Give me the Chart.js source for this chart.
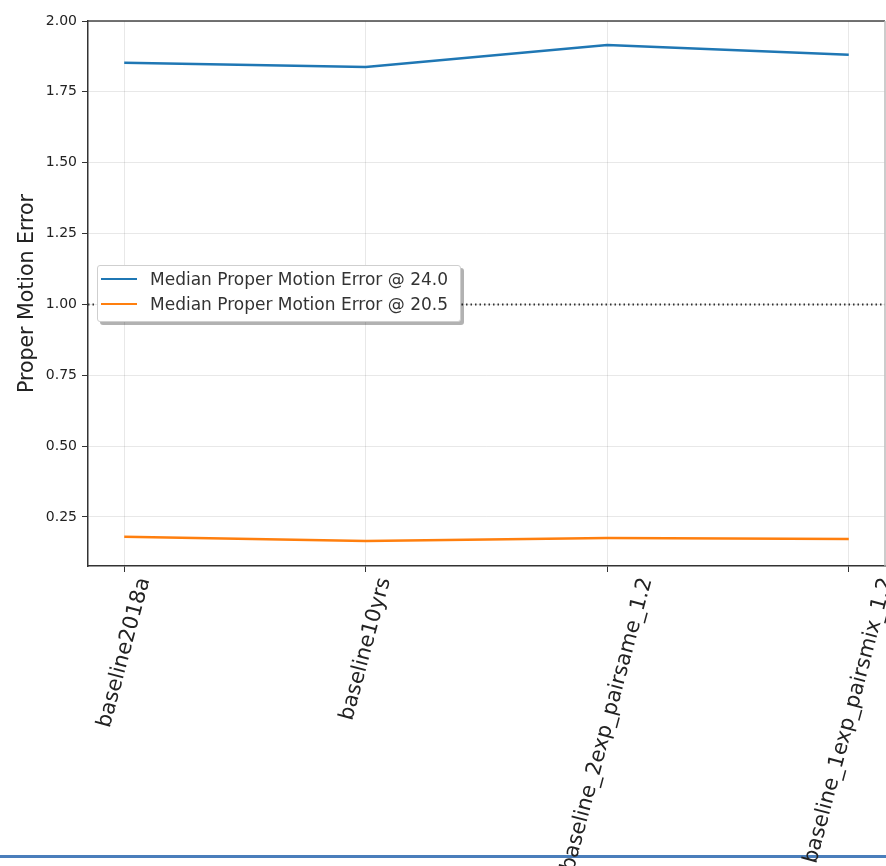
<!DOCTYPE html>
<html>
<head>
<meta charset="utf-8">
<script src="https://cdn.jsdelivr.net/npm/chart.js@4/dist/chart.umd.min.js"></script>
<style>
  body { margin: 0; background: #fff; }
  #wrap { position: relative; width: 886px; height: 866px; overflow: hidden; }
  #legend {
    position: absolute; left: 97px; top: 265px; width: 364px; height: 57px;
    background: #fff; border: 1px solid #cfcfcf; border-radius: 3px;
    box-shadow: 3px 3px 0 rgba(0,0,0,0.3);
    font-family: "DejaVu Sans", sans-serif; font-size: 17px; color: #333;
    box-sizing: border-box; padding-top: 0px;
  }
  .item { height: 25px; display: flex; align-items: center; }
  .swatch { width: 36px; height: 0; border-top: 2.5px solid; margin: 0 13px 0 3px; }
</style>
</head>
<body>
<div id="wrap">
  <canvas id="chart" width="886" height="866"></canvas>
  <div id="legend"></div>
</div>
<script>
// data
const runNames = ['baseline2018a', 'baseline10yrs', 'baseline_2exp_pairsame_1.2', 'baseline_1exp_pairsmix_1.2'];
const errFaint = [1.853, 1.838, 1.915, 1.881];
const errBright = [0.180, 0.165, 0.176, 0.172];
const seriesLabels = ['Median Proper Motion Error @ 24.0', 'Median Proper Motion Error @ 20.5'];
const seriesColors = ['#1f77b4', '#ff7f0e'];
const refLevel = 1.0;

const toPoints = arr => arr.map((v, i) => ({ x: i, y: v }));

// html legend, matplotlib style
const legendEl = document.getElementById('legend');
seriesLabels.forEach((lab, i) => {
  const row = document.createElement('div');
  row.className = 'item';
  row.innerHTML = '<span class="swatch" style="border-color:' + seriesColors[i] + '"></span>' + lab;
  legendEl.appendChild(row);
});

// dotted horizontal line, frame, rotated x labels, bottom separator
const extras = {
  id: 'extras',
  beforeDraw(chart) {
    const ctx = chart.ctx;
    ctx.save();
    ctx.fillStyle = '#4a7ebb';
    ctx.fillRect(0, 855, chart.width, 3);
    ctx.restore();
  },
  afterDatasetsDraw(chart) {
    const { ctx, chartArea } = chart;
    const y = chart.scales.y.getPixelForValue(refLevel);
    ctx.save();
    ctx.strokeStyle = '#333';
    ctx.lineWidth = 2;
    ctx.setLineDash([1.5, 3]);
    ctx.beginPath();
    ctx.moveTo(chartArea.left, y);
    ctx.lineTo(chartArea.right, y);
    ctx.stroke();
    ctx.setLineDash([]);
    // top and right spines
    ctx.strokeStyle = '#444';
    ctx.lineWidth = 1.5;
    ctx.beginPath();
    ctx.moveTo(chartArea.left, chartArea.top);
    ctx.lineTo(chartArea.right, chartArea.top);
    ctx.stroke();
    ctx.strokeStyle = '#bbb';
    ctx.beginPath();
    ctx.moveTo(chartArea.right, chartArea.top);
    ctx.lineTo(chartArea.right, chartArea.bottom);
    ctx.stroke();
    ctx.restore();
  },
  afterDraw(chart) {
    const { ctx, chartArea } = chart;
    const xs = chart.scales.x;
    const size = 21;
    const ang = 75 * Math.PI / 180;
    ctx.save();
    ctx.font = size + 'px "DejaVu Sans"';
    ctx.fillStyle = '#222';
    ctx.textAlign = 'center';
    ctx.textBaseline = 'middle';
    runNames.forEach((name, i) => {
      const w = ctx.measureText(name).width;
      const h = size * 1.16;
      const H = w * Math.sin(ang) + h * Math.cos(ang);
      const cx = xs.getPixelForValue(i);
      const cy = chartArea.bottom + 9 + H / 2;
      ctx.save();
      ctx.translate(cx, cy);
      ctx.rotate(-ang);
      ctx.fillText(name, 0, 0);
      ctx.restore();
    });
    ctx.restore();
  }
};

new Chart(document.getElementById('chart'), {
  type: 'line',
  data: {
    datasets: [
      { label: seriesLabels[0], data: toPoints(errFaint), borderColor: seriesColors[0], borderWidth: 2.5, pointRadius: 0, tension: 0 },
      { label: seriesLabels[1], data: toPoints(errBright), borderColor: seriesColors[1], borderWidth: 2.5, pointRadius: 0, tension: 0 }
    ]
  },
  options: {
    responsive: false,
    animation: false,
    layout: { padding: { top: 21, right: 1, left: 0, bottom: 0 } },
    plugins: {
      legend: { display: false },
      tooltip: { enabled: false }
    },
    scales: {
      x: {
        type: 'linear',
        min: -0.15,
        max: 3.15,
        afterBuildTicks: s => { s.ticks = runNames.map((n, i) => ({ value: i })); },
        afterFit: s => { s.height = 300; },
        ticks: { display: false },
        grid: { color: 'rgba(0,0,0,0.09)', tickColor: '#333', tickLength: 6, lineWidth: 1 },
        border: { color: '#333', width: 1.5 }
      },
      y: {
        min: 0.077,
        max: 2.0,
        afterFit: s => { s.width = 88; },
        ticks: {
          stepSize: 0.25,
          includeBounds: false,
          padding: 5,
          color: '#222',
          font: { family: 'DejaVu Sans', size: 14 },
          callback: v => v.toFixed(2)
        },
        grid: { color: 'rgba(0,0,0,0.09)', tickColor: '#333', tickLength: 6, lineWidth: 1 },
        border: { color: '#333', width: 1.5 },
        title: {
          display: true,
          text: 'Proper Motion Error',
          color: '#222',
          font: { family: 'DejaVu Sans', size: 20.5 },
          padding: { top: 15, bottom: 0 }
        }
      }
    }
  },
  plugins: [extras]
});
</script>
</body>
</html>
